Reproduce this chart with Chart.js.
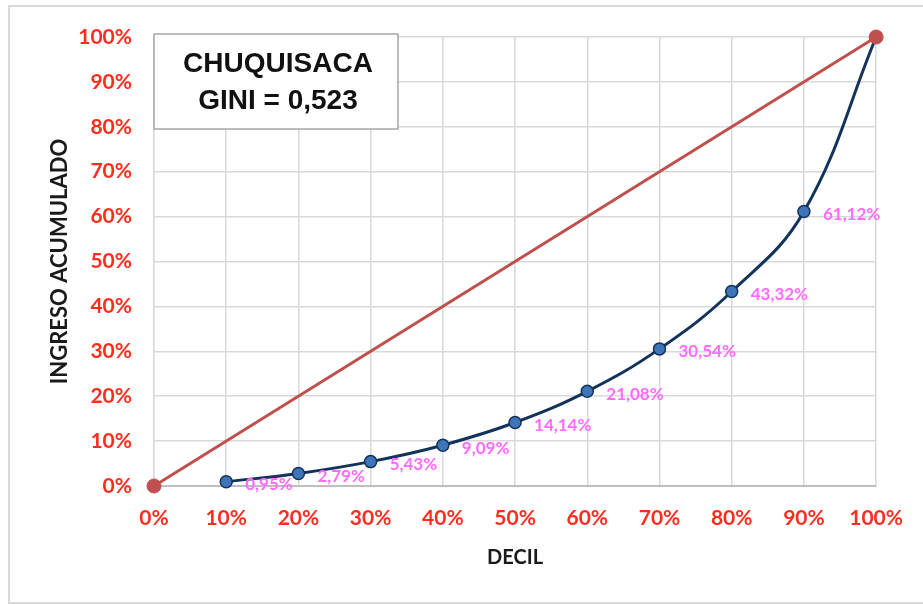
<!DOCTYPE html>
<html>
<head>
<meta charset="utf-8">
<script src="https://cdn.jsdelivr.net/npm/chart.js@4/dist/chart.umd.min.js"></script>
<style>
  html, body { margin: 0; padding: 0; background: #fff; }
  #wrap { width: 923px; height: 604px; }
</style>
</head>
<body>
<div id="wrap"><canvas id="graficoLorenz"></canvas></div>
<script>
// Datos de la curva de Lorenz
const deciles = [10, 20, 30, 40, 50, 60, 70, 80, 90, 100];
const ingresoAcumulado = [0.95, 2.79, 5.43, 9.09, 14.14, 21.08, 30.54, 43.32, 61.12, 100];
const igualdadX = [0, 100];
const igualdadY = [0, 100];
const tituloLineas = ['CHUQUISACA', 'GINI = 0,523'];

function pct(v) {
  return v.toFixed(2).replace('.', ',') + '%';
}

// Marco exterior, cuadro del título y etiquetas de datos
const extras = {
  id: 'extras',
  beforeDraw(chart) {
    const ctx = chart.ctx;
    ctx.save();
    ctx.fillStyle = '#fff';
    ctx.fillRect(0, 0, chart.width, chart.height);
    ctx.strokeStyle = '#d9d9d9';
    ctx.lineWidth = 2;
    ctx.strokeRect(9, 6, chart.width - 8, chart.height - 7);
    ctx.restore();
  },
  afterDraw(chart) {
    const ctx = chart.ctx;
    const area = chart.chartArea;
    ctx.save();
    // cuadro del título
    ctx.fillStyle = '#fff';
    ctx.fillRect(area.left, area.top - 3, 244, 95);
    ctx.strokeStyle = '#a6a6a6';
    ctx.lineWidth = 1.5;
    ctx.strokeRect(area.left, area.top - 3, 244, 95);
    ctx.fillStyle = '#111';
    ctx.font = 'bold 28px "Liberation Sans", Arial, sans-serif';
    ctx.textAlign = 'center';
    ctx.textBaseline = 'middle';
    ctx.fillText(tituloLineas[0], area.left + 124, area.top + 27);
    ctx.fillText(tituloLineas[1], area.left + 124, area.top + 64);

    // etiquetas de la curva
    const meta = chart.getDatasetMeta(1);
    ctx.fillStyle = '#ff6bff';
    ctx.font = 'bold 17px Lato, sans-serif';
    ctx.textAlign = 'left';
    ctx.textBaseline = 'middle';
    meta.data.forEach((pt, i) => {
      if (i === ingresoAcumulado.length - 1) return;
      ctx.fillText(pct(ingresoAcumulado[i]), pt.x + 19, pt.y + 3);
    });
    ctx.restore();
  }
};

const ctx = document.getElementById('graficoLorenz').getContext('2d');
new Chart(ctx, {
  type: 'line',
  data: {
    datasets: [
      {
        label: 'Igualdad',
        data: igualdadX.map((x, i) => ({ x: x, y: igualdadY[i] })),
        borderColor: '#c0504d',
        backgroundColor: '#c0504d',
        borderWidth: 3,
        pointStyle: 'circle',
        pointRadius: 7,
        pointBorderWidth: 1,
        pointBorderColor: '#c0504d',
        pointBackgroundColor: '#c0504d',
        clip: false,
        tension: 0
      },
      {
        label: 'Lorenz',
        data: deciles.map((x, i) => ({ x: x, y: ingresoAcumulado[i] })),
        borderColor: '#13335a',
        borderWidth: 3,
        pointRadius: deciles.map((d, i) => i === deciles.length - 1 ? 0 : 6),
        pointBackgroundColor: '#3e74b8',
        pointBorderColor: '#13335a',
        pointBorderWidth: 1.5,
        clip: false,
        tension: 0.4
      }
    ]
  },
  options: {
    responsive: true,
    maintainAspectRatio: false,
    animation: false,
    layout: {
      padding: { left: 0, top: 37, right: 46, bottom: 0 }
    },
    plugins: {
      legend: { display: false },
      tooltip: { enabled: false }
    },
    scales: {
      x: {
        type: 'linear',
        min: 0,
        max: 100,
        ticks: {
          stepSize: 10,
          padding: 20,
          color: '#ff2d1f',
          font: { family: 'Lato', weight: 'bold', size: 21 },
          callback: function(value) { return value + '%'; }
        },
        grid: { color: '#d9d9d9', lineWidth: 1.5, drawTicks: false },
        border: { color: '#bfbfbf', width: 2 },
        title: {
          display: true,
          text: 'DECIL',
          color: '#1a1a1a',
          font: { family: 'Lato', weight: 'bold', size: 20 },
          padding: { top: 0, bottom: 34 }
        },
        afterFit: function(scale) { scale.height = 118; }
      },
      y: {
        min: 0,
        max: 100,
        ticks: {
          stepSize: 10,
          padding: 22,
          color: '#ff2d1f',
          font: { family: 'Lato', weight: 'bold', size: 21 },
          callback: function(value) { return value + '%'; }
        },
        grid: { color: '#d9d9d9', lineWidth: 1.5, drawTicks: false },
        border: { color: '#d9d9d9', width: 1.5 },
        title: {
          display: true,
          text: 'INGRESO ACUMULADO',
          color: '#1a1a1a',
          font: { family: 'Lato', weight: 'bold', size: 22 },
          padding: { top: 47, bottom: 0 }
        },
        afterFit: function(scale) { scale.width = 154; }
      }
    }
  },
  plugins: [extras]
});
</script>
</body>
</html>
